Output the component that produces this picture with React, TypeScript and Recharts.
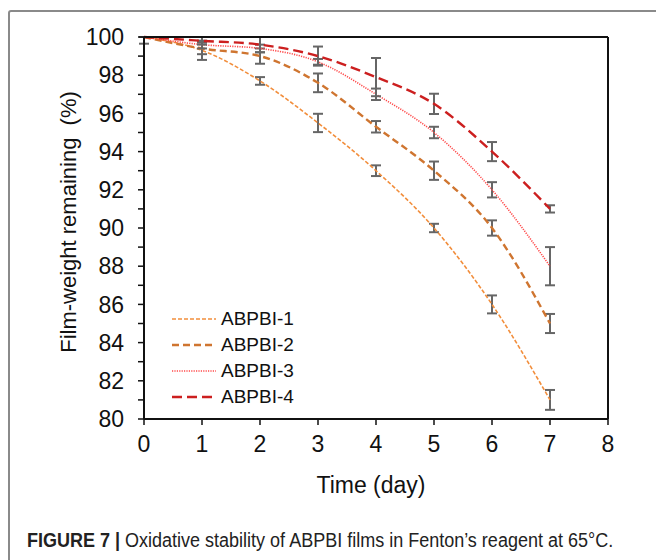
import { ErrorBar, Line, LineChart, ReferenceLine, XAxis, YAxis } from 'recharts'

const DAYS = [0, 1, 2, 3, 4, 5, 6, 7]

const ABPBI_1 = [100, 99.3, 97.7, 95.5, 93.0, 90.0, 86.0, 81.0]
const ABPBI_2 = [100, 99.4, 99.0, 97.6, 95.3, 93.0, 90.0, 85.0]
const ABPBI_3 = [100, 99.6, 99.4, 98.7, 97.0, 95.0, 92.0, 88.0]
const ABPBI_4 = [100, 99.8, 99.6, 99.0, 97.9, 96.5, 94.0, 91.0]

const ERR_1: Array<number | [number, number]> = [[0.35, 0], 0.5, 0.2, 0.48, 0.28, 0.22, 0.47, 0.52]
const ERR_2 = [0, 0.3, 0.4, 0.49, 0.3, 0.48, 0.4, 0.5]
const ERR_3 = [0, 0.2, 0.2, 0.15, 0.3, 0.3, 0.4, 1.0]
const ERR_4 = [0, 0.2, 0.4, 0.5, 1.0, 0.53, 0.5, 0.19]

const X_TICKS = [0, 1, 2, 3, 4, 5, 6, 7, 8]
const Y_TICKS = [80, 81, 82, 83, 84, 85, 86, 87, 88, 89, 90, 91, 92, 93, 94, 95, 96, 97, 98, 99, 100]

const SERIES = [
  { key: 's1', err: 'e1', label: 'ABPBI-1', color: '#f28e3c', dash: '4 2', width: 1.6 },
  { key: 's2', err: 'e2', label: 'ABPBI-2', color: '#cf7530', dash: '7 4', width: 2.4 },
  { key: 's3', err: 'e3', label: 'ABPBI-3', color: '#ff4a4a', dash: '1.2 1.2', width: 1.6 },
  { key: 's4', err: 'e4', label: 'ABPBI-4', color: '#cc1f1f', dash: '10 5', width: 2.4 },
]

const data = DAYS.map((d, i) => ({
  day: d,
  s1: ABPBI_1[i],
  s2: ABPBI_2[i],
  s3: ABPBI_3[i],
  s4: ABPBI_4[i],
  e1: ERR_1[i],
  e2: ERR_2[i],
  e3: ERR_3[i],
  e4: ERR_4[i],
}))

const FONT = '"Liberation Sans", Arial, sans-serif'
const tickStyle = { fontSize: 23, fill: '#111', fontFamily: FONT }

function ChartLegend() {
  return (
    <div style={{ fontFamily: FONT, fontSize: 19, color: '#111' }}>
      {SERIES.map((s) => (
        <div key={s.key} style={{ display: 'flex', alignItems: 'center', height: 26 }}>
          <svg width={44} height={6} style={{ marginRight: 5 }}>
            <line x1={0} y1={3} x2={44} y2={3} stroke={s.color} strokeWidth={s.width} strokeDasharray={s.dash} />
          </svg>
          <span>{s.label}</span>
        </div>
      ))}
    </div>
  )
}

export default function App() {
  return (
    <div style={{ position: 'relative', width: 656, height: 560, overflow: 'hidden', background: '#fff' }}>
      <style>{'body{margin:0}'}</style>
      <div
        style={{
          position: 'absolute',
          left: 8,
          top: 10,
          width: 760,
          height: 700,
          border: '2px solid #8a8a8a',
          borderRadius: 3,
        }}
      />
      <div style={{ position: 'absolute', left: 0, top: 0 }}>
        <LineChart width={656} height={520} data={data} margin={{ top: 37, right: 48, bottom: 31, left: 64 }}>
          <XAxis
            dataKey="day"
            type="number"
            domain={[0, 8]}
            ticks={X_TICKS}
            height={70}
            tickSize={6}
            tickMargin={11}
            tick={tickStyle}
            axisLine={{ stroke: '#111', strokeWidth: 2 }}
            tickLine={{ stroke: '#111', strokeWidth: 1.5 }}
            label={{
              content: () => (
                <text x={371} y={493} textAnchor="middle" fontSize={23} fontFamily={FONT} fill="#111">
                  Time (day)
                </text>
              ),
            }}
          />
          <YAxis
            type="number"
            domain={[80, 100]}
            ticks={Y_TICKS}
            interval={0}
            width={80}
            tickSize={6}
            tickMargin={14}
            tick={tickStyle}
            tickFormatter={(v: number) => (v % 2 === 0 ? String(v) : '')}
            axisLine={{ stroke: '#111', strokeWidth: 2 }}
            tickLine={{ stroke: '#111', strokeWidth: 1.5 }}
            label={{
              content: () => (
                <text
                  x={68}
                  y={222}
                  transform="rotate(-90 68 222)"
                  textAnchor="middle"
                  dominantBaseline="central"
                  fontSize={22}
                  fontFamily={FONT}
                  fill="#111"
                  style={{ whiteSpace: 'pre' }}
                >
                  Film-weight remaining  (%)
                </text>
              ),
            }}
          />
          {SERIES.map((s) => (
            <Line
              key={s.key}
              dataKey={s.key}
              name={s.label}
              type="monotone"
              stroke={s.color}
              strokeWidth={s.width}
              strokeDasharray={s.dash}
              dot={false}
              activeDot={false}
              isAnimationActive={false}
            >
              <ErrorBar dataKey={s.err} direction="y" width={5} stroke="#666" strokeWidth={2} />
            </Line>
          ))}
          <ReferenceLine y={100} stroke="#111" strokeWidth={2} />
          <ReferenceLine x={8} stroke="#111" strokeWidth={2} />
        </LineChart>
      </div>
      <div style={{ position: 'absolute', left: 172, top: 306 }}>
        <ChartLegend />
      </div>
      <div
        style={{
          position: 'absolute',
          left: 27,
          top: 529,
          fontFamily: FONT,
          fontSize: 20,
          color: '#222',
          whiteSpace: 'nowrap',
          transform: 'scaleX(0.9)',
          transformOrigin: 'left center',
        }}
      >
        <b>FIGURE 7 |</b> Oxidative stability of ABPBI films in Fenton’s reagent at 65°C.
      </div>
    </div>
  )
}
